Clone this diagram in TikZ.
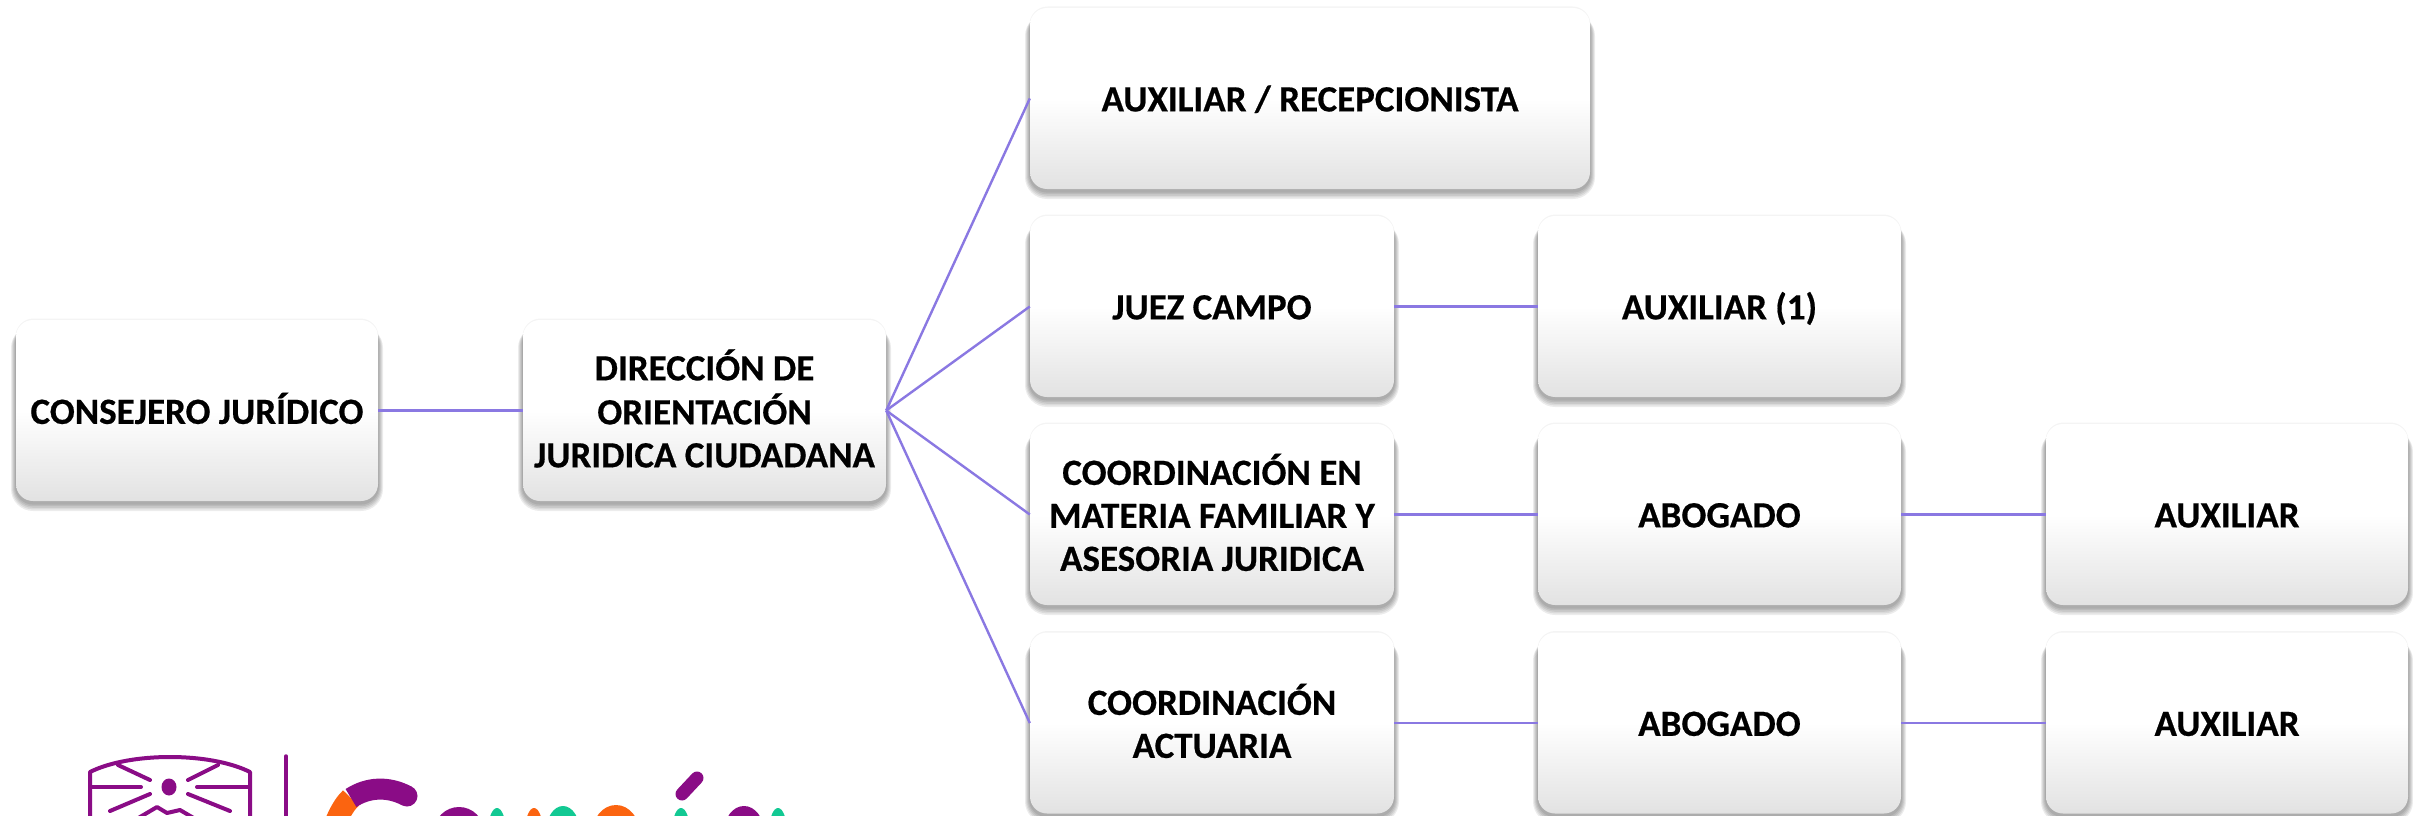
\documentclass[tikz,border=0pt]{standalone}
\usepackage{fontspec}
\setmainfont[BoldFeatures={FakeBold=0.5}]{Carlito}
\definecolor{cardgrey}{HTML}{E2E2E2}
\definecolor{linkcol}{HTML}{8A78E2}
\definecolor{logopurple}{HTML}{8A0C86}
\definecolor{logoorange}{HTML}{FB6410}
\definecolor{logogreen}{HTML}{12C993}
\pgfdeclareverticalshading{cardshade}{100bp}{color(0bp)=(cardgrey); color(25bp)=(cardgrey); color(50bp)=(white); color(100bp)=(white)}
\tikzset{
  card/.style={rounded corners=17pt, shading=cardshade, inner sep=0pt, minimum height=181pt, align=center,
    font=\fontsize{37}{43}\selectfont\bfseries, text=black},
  link/.style={draw=linkcol, line width=2.4pt},
  shadowlayer/.style={fill=black, opacity=.075},
  logoline/.style={draw=logopurple, line width=4pt, line cap=round, line join=round},
  logostroke/.style={line width=21pt, line cap=round},
}
% \card{name}{centre x}{centre y}{width}{text}
\newcommand{\card}[5]{%
  \fill[black, opacity=.045, rounded corners=18pt]
    ({#2-#4/2-.5},{#3-92}) rectangle ({#2+#4/2+.5},{#3+90});
  \foreach \d/\r in {5/22,4/21,3/20,2/19,1/18}{%
    \fill[shadowlayer, rounded corners=\r pt]
      ({#2-#4/2-\d},{#3-90.5+6}) rectangle ({#2+#4/2+\d},{#3+90.5+2+1.6*\d});
  }%
  \node[card, minimum width=#4pt] (#1) at (#2,#3) {\raisebox{-10.5pt}[0pt][0pt]{\begin{tabular}{@{}c@{}}#5\end{tabular}}};
}
\begin{document}
\begin{tikzpicture}[x=1pt,y=-1pt]
\useasboundingbox (0,0) rectangle (2413,816);
\clip (0,0) rectangle (2413,816);
\fill[white] (0,0) rectangle (2413,816);

\card{cons}{197}{410.5}{362}{CONSEJERO JURÍDICO}
\card{dir}{704.5}{410.5}{363}{DIRECCIÓN DE\\ORIENTACIÓN\\JURIDICA CIUDADANA}
\card{recep}{1310}{98.5}{560}{AUXILIAR / RECEPCIONISTA}
\card{juez}{1212}{306.5}{364}{JUEZ CAMPO}
\card{aux1}{1719.5}{306.5}{363}{AUXILIAR (1)}
\card{fam}{1212}{514.5}{364}{COORDINACIÓN EN\\MATERIA FAMILIAR Y\\ASESORIA JURIDICA}
\card{abo1}{1719.5}{514.5}{363}{ABOGADO}
\card{aux2}{2227}{514.5}{362}{AUXILIAR}
\card{act}{1212}{723}{364}{COORDINACIÓN\\ACTUARIA}
\card{abo2}{1719.5}{723}{363}{ABOGADO}
\card{aux3}{2227}{723}{362}{AUXILIAR}

\draw[link] (cons.east) -- (dir.west);
\draw[link] (dir.east) -- (recep.west);
\draw[link] (dir.east) -- (juez.west);
\draw[link] (dir.east) -- (fam.west);
\draw[link] (dir.east) -- (act.west);
\draw[link] (juez.east) -- (aux1.west);
\draw[link] (fam.east) -- (abo1.west);
\draw[link] (abo1.east) -- (aux2.west);
\draw[link] (act.east) -- (abo2.west);
\draw[link] (abo2.east) -- (aux3.west);

% logo: emblem
\draw[logoline] (90,830) -- (90,772) .. controls (130,752) and (210,752) .. (250,772) -- (250,830);
\draw[logoline] (118,765) -- (150,780);
\draw[logoline] (218,765) -- (188,780);
\draw[logoline] (92,787) -- (141,787);
\draw[logoline] (197,787) -- (248,787);
\draw[logoline] (150,794) -- (110,811);
\draw[logoline] (188,794) -- (230,811);
\fill[logopurple] (169,787) ellipse (7.5 and 8.5);
\draw[logoline] (135,820) -- (157,807) -- (167,813) -- (180,810) -- (197,820);
\draw[logoline, line width=3.5pt] (286,756) -- (286,830);
% logo: visible tops of the wordmark
\draw[logoorange, line width=22pt] (351,798) .. controls (342,806) and (333,825) .. (329,845);
\draw[logopurple, logostroke, line cap=butt] (351,798) .. controls (368,787) and (388,786) .. (407,796);
\fill[logopurple] (407,796) circle (10.5);
\draw[logopurple, logostroke, line width=13pt] (697,778) -- (682,794);
\fill[logopurple] (459,832) circle (25);
\fill[logogreen] (497,832) ellipse (9 and 24);
\fill[logoorange] (534,832) ellipse (9 and 24);
\fill[logogreen] (563,832) ellipse (17 and 26);
\fill[logoorange] (616,834) ellipse (24 and 29);
\fill[logogreen] (681,832) ellipse (9 and 24);
\fill[logopurple] (744,832) ellipse (20 and 26);
\fill[logogreen] (778,832) ellipse (9 and 24);
\end{tikzpicture}
\end{document}
